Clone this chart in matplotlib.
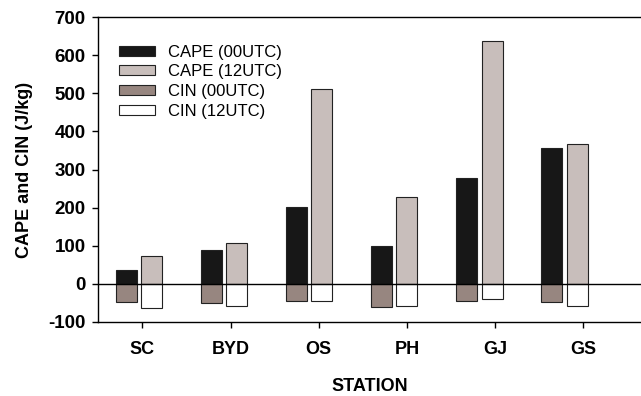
import matplotlib
matplotlib.use("Agg")
import matplotlib.pyplot as plt
import numpy as np

plt.rcParams['font.family'] = ['Liberation Sans', 'DejaVu Sans']

stations = ["SC", "BYD", "OS", "PH", "GJ", "GS"]
cape_00 = [36, 89, 202, 100, 278, 357]
cape_12 = [74, 108, 510, 229, 636, 367]
cin_00 = [-48, -50, -46, -61, -46, -47]
cin_12 = [-63, -59, -45, -59, -40, -59]
yticks = [-100, 0, 100, 200, 300, 400, 500, 600, 700]

fig = plt.figure(figsize=(6.41, 3.96), dpi=100)
ax = fig.add_axes([98/641, 1-322/396, 543/641, (322-17)/396])

x = np.arange(len(stations))
w = 0.247
off = 0.148
ec = '#222222'
lw = 0.8
ax.bar(x - off, cape_00, w, color='#171717', edgecolor=ec, linewidth=lw, label='CAPE (00UTC)')
ax.bar(x + off, cape_12, w, color='#c8bebb', edgecolor=ec, linewidth=lw, label='CAPE (12UTC)')
ax.bar(x - off, cin_00, w, color='#978680', edgecolor=ec, linewidth=lw, label='CIN (00UTC)')
ax.bar(x + off, cin_12, w, color='white', edgecolor=ec, linewidth=lw, label='CIN (12UTC)')

ax.axhline(0, color='black', linewidth=1.0, zorder=3)

ax.set_xlim(-0.485, 5.9)
ax.set_ylim(-100, 700)
ax.set_yticks(yticks)
ax.set_yticklabels([str(v) for v in yticks], fontsize=13.5, fontweight='bold')
ax.set_xticks(0.037 + x * 1.0365)
ax.set_xticklabels(stations, fontsize=13, fontweight='bold')
ax.tick_params(axis='y', direction='out', length=4, width=1, pad=5)
ax.tick_params(axis='x', direction='out', length=4, width=1, pad=10)

ax.spines['right'].set_visible(False)
for s in ['left', 'bottom', 'top']:
    ax.spines[s].set_linewidth(1.0)

ax.set_xlabel('STATION', fontsize=13, fontweight='bold', labelpad=14)
ax.set_ylabel('CAPE and CIN (J/kg)', fontsize=13, fontweight='bold', labelpad=11)

leg = ax.legend(loc='upper left', bbox_to_anchor=(21/543, 1-(44.5-17)/305),
                frameon=False, fontsize=12, handlelength=2.16, handleheight=0.54,
                labelspacing=0.29, borderpad=0, borderaxespad=0, handletextpad=0.8)

fig.savefig('out.png', dpi=100)
